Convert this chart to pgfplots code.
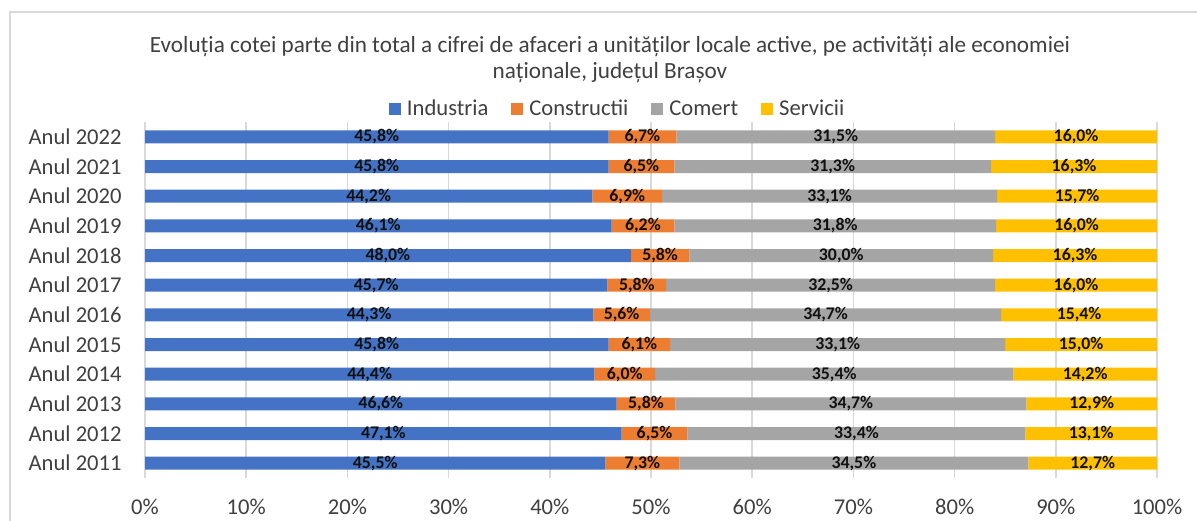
\documentclass[border=0pt]{standalone}
\usepackage{fontspec}
\setmainfont{Carlito}
\usepackage{pgfplots}
\usepackage{pgfplotstable}
\pgfplotsset{compat=1.18}
\definecolor{cInd}{HTML}{4472C4}
\definecolor{cCon}{HTML}{ED7D31}
\definecolor{cCom}{HTML}{A5A5A5}
\definecolor{cSer}{HTML}{FFC000}
\definecolor{gridgray}{HTML}{D9D9D9}
\definecolor{textgray}{HTML}{404040}
\definecolor{labelblack}{HTML}{111111}
% ser = shown value, serx = value plotted so each bar ends at 100%
\pgfplotstableread{
idx ind con com ser serx
0 45.5 7.3 34.5 12.7 12.7
1 47.1 6.5 33.4 13.1 13.0
2 46.6 5.8 34.7 12.9 12.9
3 44.4 6.0 35.4 14.2 14.2
4 45.8 6.1 33.1 15.0 15.0
5 44.3 5.6 34.7 15.4 15.4
6 45.7 5.8 32.5 16.0 16.0
7 48.0 5.8 30.0 16.3 16.2
8 46.1 6.2 31.8 16.0 15.9
9 44.2 6.9 33.1 15.7 15.8
10 45.8 6.5 31.3 16.3 16.4
11 45.8 6.7 31.5 16.0 16.0
}\datatable
\begin{document}
\begin{tikzpicture}
\useasboundingbox (0,0) rectangle (598.5pt,260pt);
\draw[gridgray, line width=0.75pt] (5pt,-5pt) -- (5pt,254pt) -- (605pt,254pt);
\node[text=textgray, align=center, font=\fontsize{11.6}{13}\selectfont] at (305pt,230pt)
 {Evoluția cotei parte din total a cifrei de afaceri a unităților locale active, pe activități ale economiei\\ naționale, județul Brașov};
\begin{axis}[
 at={(72.5pt,21pt)}, anchor=south west,
 scale only axis, width=506pt, height=178pt,
 xbar stacked, bar width=6.5pt,
 xmin=0, xmax=100, ymin=-0.5, ymax=11.5,
 ytick={0,...,11},
 yticklabels={Anul 2011,Anul 2012,Anul 2013,Anul 2014,Anul 2015,Anul 2016,Anul 2017,Anul 2018,Anul 2019,Anul 2020,Anul 2021,Anul 2022},
 xtick={0,10,...,100},
 xticklabel={\pgfmathprintnumber{\tick}\%},
 /pgf/number format/assume math mode=true,
 xmajorgrids, grid style={draw=gridgray, line width=0.75pt},
 axis line style={draw=none}, major tick style={draw=none},
 ticklabel style={font=\fontsize{11.3}{13}\selectfont, text=textgray, inner sep=0pt},
 yticklabel style={anchor=east, xshift=-11.5pt},
 xticklabel style={anchor=north, yshift=-10.5pt},
 legend columns=4,
 legend style={at={(0.466,1.036)}, anchor=center, draw=none, fill=none,
   font=\fontsize{11.3}{13}\selectfont, text=textgray,
   nodes={inner sep=0pt},
   /tikz/every odd column/.append style={column sep=3pt},
   /tikz/every even column/.append style={column sep=11.5pt}},
 legend image code/.code={\fill[#1] (0pt,-3pt) rectangle (6pt,3pt);},
 point meta=explicit,
 nodes near coords={\pgfmathprintnumber[fixed,fixed zerofill,precision=1,use comma]{\pgfplotspointmeta}\%},
 every node near coord/.append style={font=\fontsize{8.9}{10}\bfseries, text=labelblack, anchor=center, inner sep=0pt},
]
\addplot[fill=cInd, draw=none] table[x=ind, y=idx, meta=ind]{\datatable};
\addplot[fill=cCon, draw=none] table[x=con, y=idx, meta=con]{\datatable};
\addplot[fill=cCom, draw=none] table[x=com, y=idx, meta=com]{\datatable};
\addplot[fill=cSer, draw=none] table[x=serx, y=idx, meta=ser]{\datatable};
\legend{Industria,Constructii,Comert,Servicii}
\end{axis}
\end{tikzpicture}
\end{document}
